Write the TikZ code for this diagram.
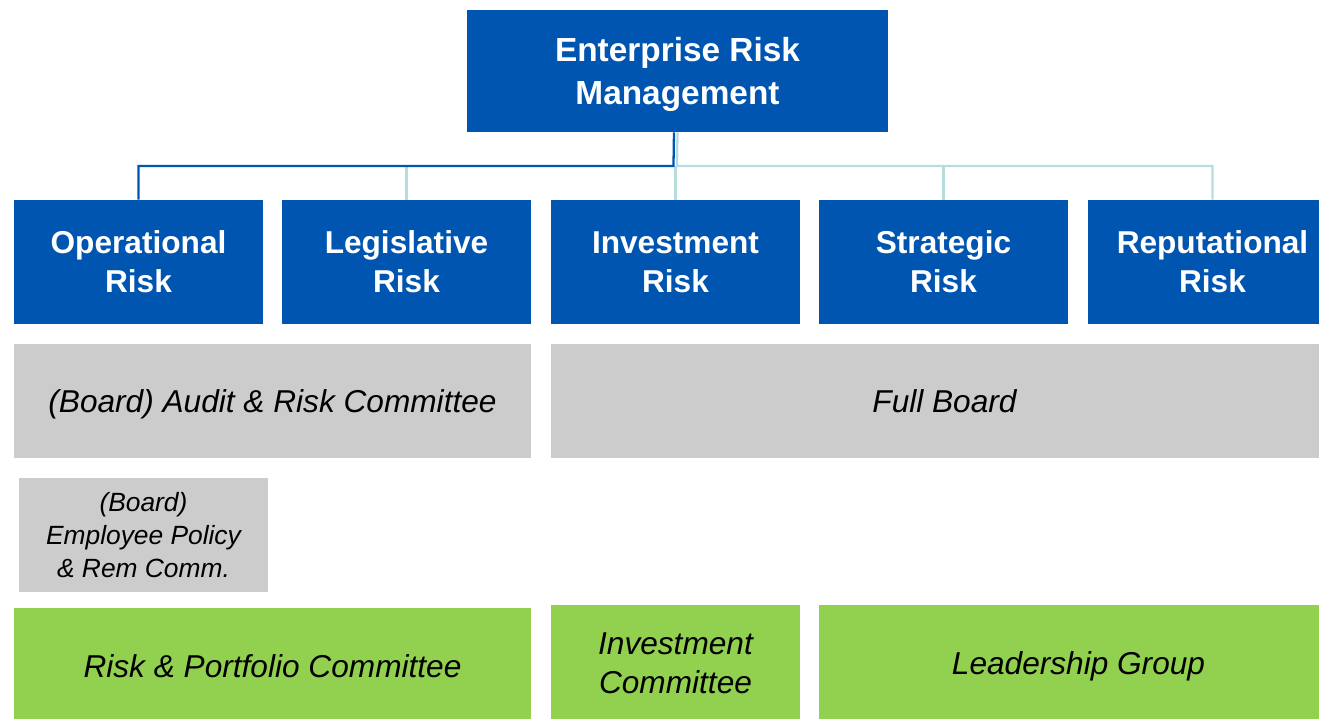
\documentclass[tikz,border=0pt]{standalone}
\usepackage{fontspec}
\setmainfont{Liberation Sans}
\usepackage{xcolor}
\usetikzlibrary{positioning}

\definecolor{ermblue}{RGB}{0,85,176}
\definecolor{ermteal}{RGB}{182,220,222}
\definecolor{ermgrey}{RGB}{204,204,204}
\definecolor{ermgreen}{RGB}{146,208,80}

\tikzset{
    riskbox/.style={fill=ermblue, text=white, align=center, inner sep=0pt, text depth=0pt,
        font=\bfseries\fontsize{18}{22.2}\selectfont},
    boardbox/.style={fill=ermgrey, align=center, inner sep=0pt, text depth=0pt,
        font=\itshape\fontsize{18}{22.2}\selectfont},
    groupbox/.style={fill=ermgreen, align=center, inner sep=0pt, text depth=0pt,
        font=\itshape\fontsize{18}{22.2}\selectfont},
    mainline/.style={ermblue, line width=1.3pt},
    sideline/.style={ermteal, line width=1.3pt}
}

\begin{document}
\begin{tikzpicture}[x=0.02cm, y=-0.02cm]
        \clip (0,0) rectangle (1319,718);
        % top box
        \node[riskbox, minimum width=8.42cm, minimum height=2.44cm,
            font=\bfseries\fontsize{19}{24.5}\selectfont] (erm) at (677.5,71)
            {Enterprise Risk\\Management};
        % risk categories
        \node[riskbox, minimum width=4.98cm, minimum height=2.48cm] (op) at (138.5,262) {Operational\\Risk};
        \node[riskbox, minimum width=4.98cm, minimum height=2.48cm] (leg) at (406.5,262) {Legislative\\Risk};
        \node[riskbox, minimum width=4.98cm, minimum height=2.48cm] (inv) at (675.5,262) {Investment\\Risk};
        \node[riskbox, minimum width=4.98cm, minimum height=2.48cm] (str) at (943.5,262) {Strategic\\Risk};
        \node[riskbox, minimum width=4.98cm, minimum height=2.48cm] (rep) at (1212.5,262) {Reputational\\Risk};
        % board level
        \node[boardbox, minimum width=10.34cm, minimum height=2.28cm] (audit) at (272.5,401) {(Board) Audit \& Risk Committee};
        \node[boardbox, minimum width=15.74cm, minimum height=2.28cm] (full) at (944.5,401) {Full Board};
        \node[boardbox, minimum width=4.98cm, minimum height=2.28cm,
            font=\itshape\fontsize{15}{18.8}\selectfont] (rem) at (143.5,535)
            {(Board)\\Employee Policy\\\& Rem Comm.};
        % management groups
        \node[groupbox, minimum width=10.34cm, minimum height=2.32cm] (port) at (272.5,666) {Risk \& Portfolio Committee};
        \node[groupbox, minimum width=4.98cm, minimum height=2.32cm] (invc) at (675.5,663) {Investment\\Committee};
        \node[groupbox, minimum width=10.38cm, minimum height=2.32cm] (lead) at (1078.5,663) {Leadership Group};
        % connectors
        \coordinate (bus) at (677,166);
        \draw[sideline] (erm.south) -- (bus) -| (rep.north);
        \draw[sideline] (bus -| leg.north) -- (leg.north);
        \draw[sideline] (bus -| inv.north) -- (inv.north);
        \draw[sideline] (bus -| str.north) -- (str.north);
        \draw[mainline] ([xshift=-2]erm.south) -- ([xshift=-2]bus) -| (op.north);
    \end{tikzpicture}
\end{document}
